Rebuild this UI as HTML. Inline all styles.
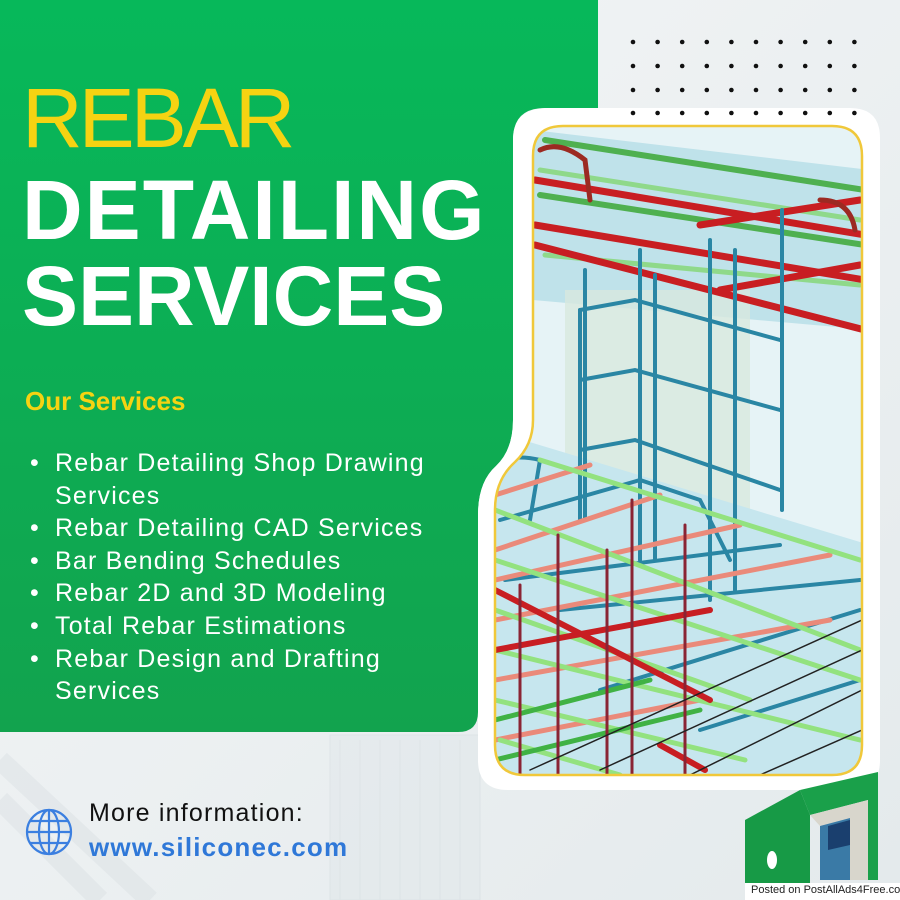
<!DOCTYPE html>
<html><head><meta charset="utf-8"><style>
html,body{margin:0;padding:0}
body{width:900px;height:900px;position:relative;overflow:hidden;background:#eef1f2;font-family:"Liberation Sans",sans-serif}
.t{position:absolute;left:22px;white-space:nowrap}
.b{position:relative;padding-left:25px}
.b i{position:absolute;left:0;font-style:normal}
</style></head><body>
<svg width="900" height="900" style="position:absolute;left:0;top:0">
<defs>
<linearGradient id="bg" x1="0" y1="0" x2="1" y2="1"><stop offset="0" stop-color="#f4f6f7"/><stop offset="1" stop-color="#e4eaec"/></linearGradient>
<linearGradient id="gr" x1="0" y1="0" x2="0" y2="1"><stop offset="0" stop-color="#07b85a"/><stop offset="1" stop-color="#12a34e"/></linearGradient>
<clipPath id="cp"><path d="M563,126 H832 Q862,126 862,156 V745 Q862,775 832,775 H525 Q495,775 495,745 V510 Q495,480 515,462 Q533,445 533,420 V156 Q533,126 563,126 Z"/></clipPath>
</defs>
<rect width="900" height="900" fill="url(#bg)"/>
<g opacity="0.35" stroke="#c8d2d6" stroke-width="1">
<rect x="330" y="735" width="150" height="165" fill="#dde5e8"/>
<path d="M340 740V900M360 740V900M380 740V900M400 740V900M420 740V900M440 740V900M460 740V900"/>
<path d="M0 760L150 900M0 800L100 900" stroke-width="20" stroke="#d5dcdf"/>
</g>
<path d="M0,0 H598 V108 H545 Q513,108 513,140 V420 Q513,450 496,466 Q478,482 478,515 V712 Q478,732 458,732 H0 Z" fill="url(#gr)"/>
<path d="M548,108 H850 Q880,108 880,138 V760 Q880,790 850,790 H508 Q478,790 478,760 V515 Q478,482 496,466 Q513,450 513,420 V140 Q513,108 548,108 Z" fill="#ffffff"/>
<g fill="#111">
<circle cx="633" cy="42" r="2.3"/><circle cx="657.6" cy="42" r="2.3"/><circle cx="682.2" cy="42" r="2.3"/><circle cx="706.8" cy="42" r="2.3"/><circle cx="731.4" cy="42" r="2.3"/><circle cx="756" cy="42" r="2.3"/><circle cx="780.6" cy="42" r="2.3"/><circle cx="805.2" cy="42" r="2.3"/><circle cx="829.8" cy="42" r="2.3"/><circle cx="854.4" cy="42" r="2.3"/>
<circle cx="633" cy="66" r="2.3"/><circle cx="657.6" cy="66" r="2.3"/><circle cx="682.2" cy="66" r="2.3"/><circle cx="706.8" cy="66" r="2.3"/><circle cx="731.4" cy="66" r="2.3"/><circle cx="756" cy="66" r="2.3"/><circle cx="780.6" cy="66" r="2.3"/><circle cx="805.2" cy="66" r="2.3"/><circle cx="829.8" cy="66" r="2.3"/><circle cx="854.4" cy="66" r="2.3"/>
<circle cx="633" cy="90" r="2.3"/><circle cx="657.6" cy="90" r="2.3"/><circle cx="682.2" cy="90" r="2.3"/><circle cx="706.8" cy="90" r="2.3"/><circle cx="731.4" cy="90" r="2.3"/><circle cx="756" cy="90" r="2.3"/><circle cx="780.6" cy="90" r="2.3"/><circle cx="805.2" cy="90" r="2.3"/><circle cx="829.8" cy="90" r="2.3"/><circle cx="854.4" cy="90" r="2.3"/>
<circle cx="633" cy="113" r="2.3"/><circle cx="657.6" cy="113" r="2.3"/><circle cx="682.2" cy="113" r="2.3"/><circle cx="706.8" cy="113" r="2.3"/><circle cx="731.4" cy="113" r="2.3"/><circle cx="756" cy="113" r="2.3"/><circle cx="780.6" cy="113" r="2.3"/><circle cx="805.2" cy="113" r="2.3"/><circle cx="829.8" cy="113" r="2.3"/><circle cx="854.4" cy="113" r="2.3"/>
<circle cx="854.4" cy="137" r="2.3"/>
</g>
<g clip-path="url(#cp)">
<rect x="490" y="120" width="380" height="660" fill="#e6f3f6"/>
<path d="M533,130 L870,170 V330 L533,300 Z" fill="#bfe2ea"/>
<rect x="565" y="290" width="185" height="240" fill="#d8e8de" opacity="0.8"/>
<path d="M490,430 L870,545 V780 H490 Z" fill="#c6e6ee"/>
<g stroke-linecap="round" fill="none">
<g stroke="#4fb050" stroke-width="6"><path d="M545,140 L865,190"/><path d="M540,195 L865,245"/></g>
<g stroke="#8fd98a" stroke-width="5"><path d="M540,170 L860,220"/><path d="M545,255 L860,285"/></g>
<g stroke="#c81e22" stroke-width="7"><path d="M535,180 L865,235"/><path d="M535,225 L865,280"/><path d="M535,245 L865,330"/><path d="M700,225 L860,200"/><path d="M720,290 L860,265"/></g>
<g stroke="#9c2a22" stroke-width="5"><path d="M540,150 Q560,140 585,160 L590,200"/><path d="M820,200 Q850,200 855,230"/></g>
<g stroke="#2a86a4" stroke-width="4"><path d="M585,270 V520"/><path d="M640,250 V560"/><path d="M655,275 V560"/><path d="M710,240 V600"/><path d="M735,250 V590"/><path d="M782,210 V510"/>
<path d="M580,310 L635,300 L780,340"/><path d="M580,380 L635,370 L780,410"/><path d="M580,450 L635,440 L780,490"/><path d="M580,310 V520"/>
<path d="M500,460 Q520,455 540,460 L530,520"/><path d="M500,520 L640,480 L700,500 L730,560"/><path d="M505,580 L780,545"/><path d="M560,610 L860,580"/><path d="M600,690 L860,610"/><path d="M700,730 L860,680"/></g>
<g stroke="#ea8a7a" stroke-width="5"><path d="M495,495 L590,465"/><path d="M495,550 L660,495"/><path d="M495,580 L740,525"/><path d="M495,620 L830,555"/><path d="M495,680 L830,620"/><path d="M495,740 L700,700"/></g>
<g stroke="#93e27f" stroke-width="5"><path d="M540,460 L860,560"/><path d="M495,510 L860,650"/><path d="M495,560 L860,680"/><path d="M495,610 L750,700"/><path d="M495,650 L860,740"/><path d="M495,700 L745,760"/><path d="M500,740 L620,775"/></g>
<g stroke="#40b244" stroke-width="5"><path d="M495,720 L650,680"/><path d="M495,760 L700,710"/></g>
<g stroke="#c81e22" stroke-width="6"><path d="M495,590 L710,700"/><path d="M495,650 L710,610"/><path d="M660,745 L705,770"/></g>
<g stroke="#8a2434" stroke-width="3"><path d="M520,585 V775"/><path d="M558,535 V775"/><path d="M607,550 V775"/><path d="M632,500 V775"/><path d="M685,525 V775"/></g>
<g stroke="#222" stroke-width="1.5"><path d="M530,770 L862,620"/><path d="M600,770 L862,650"/><path d="M690,775 L862,690"/><path d="M760,775 L862,730"/></g>
</g>
</g>
<path d="M563,126 H832 Q862,126 862,156 V745 Q862,775 832,775 H525 Q495,775 495,745 V510 Q495,480 515,462 Q533,445 533,420 V156 Q533,126 563,126 Z" fill="none" stroke="#f0c83a" stroke-width="2.5"/>
<g stroke="#3b7fe0" stroke-width="2.2" fill="none">
<circle cx="49" cy="832" r="22"/><ellipse cx="49" cy="832" rx="10" ry="22"/><path d="M49,810V854M27,832H71M30,821H68M30,843H68"/>
</g>
<path d="M800,790 L878,772 L878,880 L868,880 L868,800 L810,815 Z" fill="#1aa04a"/>
<path d="M810,815 L868,800 L868,880 L850,880 L850,818 L820,826 Z" fill="#d8d6cc"/>
<path d="M820,826 L850,818 L850,880 L820,880 Z" fill="#3a7aa6"/>
<path d="M828,826 L850,820 L850,845 L828,850 Z" fill="#1a3f6e"/>
<path d="M745,820 L800,790 L810,815 L810,885 L745,885 Z" fill="#179a46"/>
<ellipse cx="772" cy="860" rx="5" ry="9" fill="#fff"/>
<rect x="745" y="883" width="155" height="17" fill="#fff"/>
</svg>
<div class="t" style="top:70px;font-size:84px;color:#f5d312;letter-spacing:-4px">REBAR</div>
<div class="t" style="top:162px;font-size:84px;font-weight:bold;color:#fff;letter-spacing:2px">DETAILING</div>
<div class="t" style="top:248px;font-size:84px;font-weight:bold;color:#fff;letter-spacing:0px">SERVICES</div>
<div class="t" style="top:386px;left:25px;font-size:26px;font-weight:bold;color:#f5d312">Our Services</div>
<div style="position:absolute;left:30px;top:447px;font-size:25px;line-height:32.6px;color:#fff;width:470px;letter-spacing:1.2px;white-space:nowrap">
<div class="b"><i>•</i>Rebar Detailing Shop Drawing</div>
<div class="b">Services</div>
<div class="b"><i>•</i>Rebar Detailing CAD Services</div>
<div class="b"><i>•</i>Bar Bending Schedules</div>
<div class="b"><i>•</i>Rebar 2D and 3D Modeling</div>
<div class="b"><i>•</i>Total Rebar Estimations</div>
<div class="b"><i>•</i>Rebar Design and Drafting</div>
<div class="b">Services</div>
</div>
<div class="t" style="left:89px;top:799px;font-size:25px;color:#111;letter-spacing:1.2px">More information:</div>
<div class="t" style="left:89px;top:832px;font-size:26px;font-weight:bold;color:#2f78d8;letter-spacing:1.2px">www.siliconec.com</div>
<div class="t" style="left:751px;top:884px;font-size:11px;color:#222">Posted on PostAllAds4Free.com</div>
</body></html>
